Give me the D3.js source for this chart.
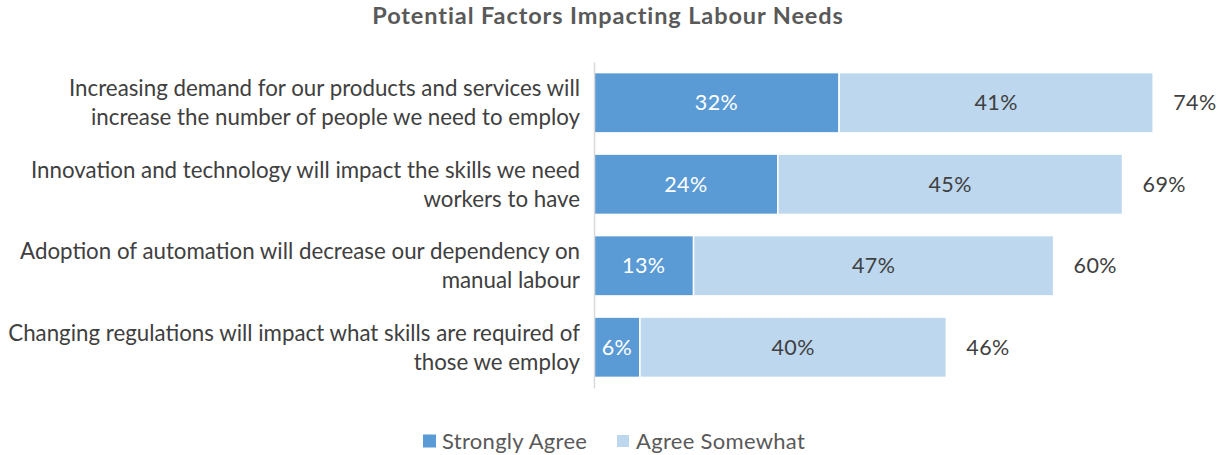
<!DOCTYPE html>
<html>
<head>
<meta charset="utf-8">
<script src="https://cdn.jsdelivr.net/npm/d3@7/dist/d3.min.js"></script>
<style>
  html, body { margin: 0; padding: 0; background: #fff; }
  svg { display: block; }
</style>
</head>
<body>
<svg id="chart" width="1220" height="455"></svg>
<script>
// Survey categories (two-line labels) and the share of respondents per answer
const categories = [
  ["Increasing demand for our products and services will", "increase the number of people we need to employ"],
  ["Innovation and technology will impact the skills we need", "workers to have"],
  ["Adoption of automation will decrease our dependency on", "manual labour"],
  ["Changing regulations will impact what skills are required of", "those we employ"]
];
const stronglyAgree = [32, 24, 13, 6];
const agreeSomewhat = [41, 45, 47, 40];
const totals = [74, 69, 60, 46];
const seriesNames = ["Strongly Agree", "Agree Somewhat"];

const colors = ["#5B9BD5", "#BDD7EE"];
const font = "Lato, 'Open Sans', sans-serif";
const fs = 22.3;

const svg = d3.select("#chart");

const x = d3.scaleLinear().domain([0, 100]).range([594, 594 + 766]);
const y = d3.scaleBand().domain(d3.range(categories.length)).range([62, 388]).paddingInner(0.26).paddingOuter(0.13);

// Title
svg.append("text")
  .attr("x", 608).attr("y", 24)
  .attr("text-anchor", "middle")
  .attr("font-family", font).attr("font-weight", "bold")
  .attr("font-size", 23.5).attr("fill", "#595959")
  .attr("letter-spacing", 0.9)
  .text("Potential Factors Impacting Labour Needs");

// Stacked segments
const stack = d3.stack().keys([0, 1]).value((d, k) => d[k]);
const rows = categories.map((c, i) => [stronglyAgree[i], agreeSomewhat[i]]);
const layers = stack(rows);

layers.forEach((layer, k) => {
  svg.append("g").selectAll("rect")
    .data(layer)
    .join("rect")
    .attr("x", d => x(d[0]))
    .attr("y", (d, i) => y(i))
    .attr("width", d => x(d[1]) - x(d[0]))
    .attr("height", y.bandwidth())
    .attr("fill", colors[k])
    .attr("stroke", "#fff")
    .attr("stroke-width", 1.5);

  svg.append("g").selectAll("text")
    .data(layer)
    .join("text")
    .attr("x", d => (x(d[0]) + x(d[1])) / 2)
    .attr("y", (d, i) => y(i) + y.bandwidth() / 2)
    .attr("dy", "0.36em")
    .attr("text-anchor", "middle")
    .attr("font-family", font).attr("font-size", 21.5)
    .attr("letter-spacing", 0.4)
    .attr("fill", k === 0 ? "#fff" : "#404040")
    .text((d, i) => (k === 0 ? stronglyAgree[i] : agreeSomewhat[i]) + "%");
});

// Totals beyond each bar
svg.append("g").selectAll("text")
  .data(totals)
  .join("text")
  .attr("x", (d, i) => x(stronglyAgree[i] + agreeSomewhat[i]) + 20)
  .attr("y", (d, i) => y(i) + y.bandwidth() / 2)
  .attr("dy", "0.36em")
  .attr("font-family", font).attr("font-size", 21.5)
  .attr("letter-spacing", 0.4)
  .attr("fill", "#404040")
  .text(d => d + "%");

// Category axis
const axis = svg.append("g")
  .attr("transform", `translate(${x(0)},0)`)
  .call(d3.axisLeft(y).tickSize(0).tickFormat(""));
axis.select(".domain").attr("stroke", "#D9D9D9").attr("stroke-width", 1.5);

const labels = svg.append("g").selectAll("text")
  .data(categories)
  .join("text")
  .attr("text-anchor", "end")
  .attr("font-family", font).attr("font-size", fs)
  .attr("fill", "#404040");
labels.each(function(lines, i) {
  const t = d3.select(this);
  const cy = y(i) + y.bandwidth() / 2;
  lines.forEach((ln, j) => {
    t.append("tspan")
      .attr("x", 580)
      .attr("y", cy + (j - 0.5) * 29)
      .attr("dy", "0.36em")
      .text(ln);
  });
});

// Legend
const legend = svg.append("g");
const legendX = [423, 617];
const legendSize = [13, 12];
seriesNames.forEach((name, k) => {
  legend.append("rect")
    .attr("x", legendX[k]).attr("y", 441 - legendSize[k] / 2)
    .attr("width", legendSize[k]).attr("height", legendSize[k])
    .attr("fill", colors[k]);
  legend.append("text")
    .attr("x", legendX[k] + 19).attr("y", 441)
    .attr("dy", "0.36em")
    .attr("font-family", font).attr("font-size", 22)
    .attr("letter-spacing", 0.3)
    .attr("fill", "#595959")
    .text(name);
});
</script>
</body>
</html>
